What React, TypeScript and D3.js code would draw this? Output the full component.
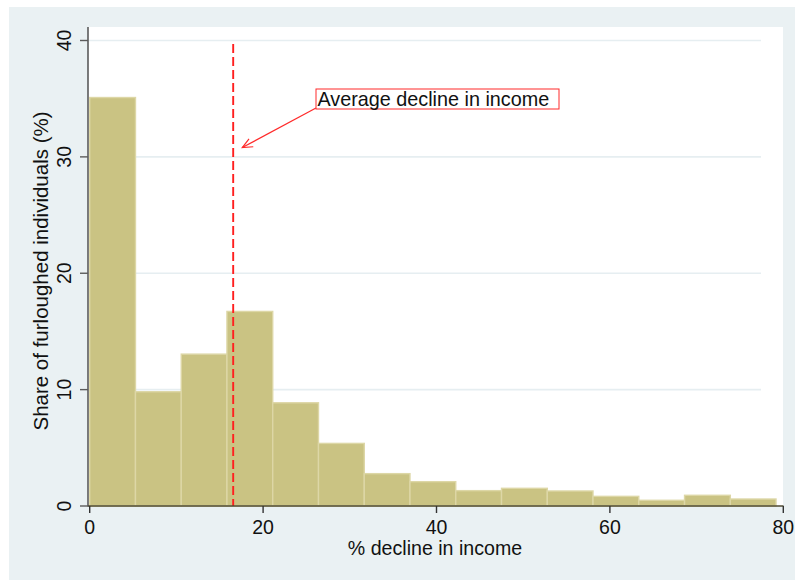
import React from "react";
import * as d3 from "d3";

const binEdges = [0, 5.28, 10.56, 15.83, 21.11, 26.39, 31.67, 36.94, 42.22, 47.5, 52.78, 58.05, 63.33, 68.61, 73.89, 79.16];
const shares = [35.1, 9.82, 13.05, 16.72, 8.87, 5.38, 2.78, 2.09, 1.32, 1.52, 1.29, 0.83, 0.49, 0.92, 0.6];
const xTicks = [0, 20, 40, 60, 80];
const yTicks = [0, 10, 20, 30, 40];
const meanDecline = 16.55;
const meanLineTop = 39.7;
const annotationText = "Average decline in income";
const arrowFrom = [26.1, 34.2];
const arrowTo = [17.6, 30.8];
const xTitle = "% decline in income";
const yTitle = "Share of furloughed individuals (%)";

const W = 795;
const H = 580;
const FONT = "'Liberation Sans', Arial, Helvetica, sans-serif";

export default function App() {
  const x = d3.scaleLinear().domain([0, 80]).range([89.7, 783.3]);
  const y = d3.scaleLinear().domain([0, 40]).range([506, 40.5]);

  const bars = shares.map((v, i) => ({ x0: binEdges[i], x1: binEdges[i + 1], v }));

  const ax = x(arrowFrom[0]);
  const ay = y(arrowFrom[1]);
  const tx = x(arrowTo[0]);
  const ty = y(arrowTo[1]);
  const ang = Math.atan2(ay - ty, ax - tx);
  const headLen = 11;
  const spread = 0.42;
  const h1 = [tx + headLen * Math.cos(ang + spread), ty + headLen * Math.sin(ang + spread)];
  const h2 = [tx + headLen * Math.cos(ang - spread), ty + headLen * Math.sin(ang - spread)];

  const boxX = 316;
  const boxY = 89;

  return (
    <svg width={W} height={H} style={{ position: "absolute", left: 0, top: 0 }} fontFamily={FONT}>
      <rect x={0} y={0} width={W} height={H} fill="#ffffff" />
      <rect x={9} y={7} width={W - 9} height={H - 7} fill="#EAF1F3" />
      <rect x={88} y={27} width={783 - 88} height={506 - 27} fill="#ffffff" />
      {yTicks.filter((t) => t > 0).map((t) => (
        <line key={"g" + t} x1={88} x2={761} y1={y(t)} y2={y(t)} stroke="#E6EEF1" strokeWidth={1.6} />
      ))}
      {bars.map((b, i) => (
        <rect
          key={"b" + i}
          x={x(b.x0)}
          y={y(b.v)}
          width={x(b.x1) - x(b.x0)}
          height={y(0) - y(b.v)}
          fill="#CAC383"
          stroke="#DDD7A6"
          strokeWidth={1.4}
        />
      ))}
      <line x1={x(meanDecline)} x2={x(meanDecline)} y1={y(meanLineTop)} y2={y(0)} stroke="#FF1F1F" strokeWidth={1.9} strokeDasharray="9,4" />
      {/* axes */}
      <line x1={88} x2={88} y1={27} y2={506.5} stroke="#5b5b5b" strokeWidth={1.6} />
      <line x1={88} x2={783.5} y1={506} y2={506} stroke="#4e4a33" strokeWidth={1.6} />
      {yTicks.map((t) => (
        <g key={"yt" + t}>
          <line x1={80} x2={88} y1={y(t)} y2={y(t)} stroke="#5b5b5b" strokeWidth={1.4} />
          <text
            transform={`translate(70.5,${y(t)}) rotate(-90)`}
            textAnchor="middle"
            fontSize={19.5}
            fill="#111"
          >
            {t}
          </text>
        </g>
      ))}
      {xTicks.map((t) => (
        <g key={"xt" + t}>
          <line x1={x(t)} x2={x(t)} y1={506} y2={513} stroke="#333" strokeWidth={1.4} />
          <text x={x(t)} y={533.5} textAnchor="middle" fontSize={19.5} fill="#111">
            {t}
          </text>
        </g>
      ))}
      <text x={435} y={554.5} textAnchor="middle" fontSize={19.6} fill="#111">
        {xTitle}
      </text>
      <text transform={`translate(47.5,271) rotate(-90)`} textAnchor="middle" fontSize={20.5} fill="#111">
        {yTitle}
      </text>
      {/* annotation */}
      <line x1={ax} y1={ay} x2={tx} y2={ty} stroke="#FF2A2A" strokeWidth={1.2} />
      <polyline points={`${h1[0]},${h1[1]} ${tx},${ty} ${h2[0]},${h2[1]}`} fill="none" stroke="#FF2A2A" strokeWidth={1.2} />
      <rect x={boxX} y={boxY} width={243} height={20} fill="#ffffff" stroke="#FF2A2A" strokeWidth={1} />
      <text x={boxX + 1.5} y={boxY + 16.5} fontSize={19.8} fill="#111">
        {annotationText}
      </text>
    </svg>
  );
}
